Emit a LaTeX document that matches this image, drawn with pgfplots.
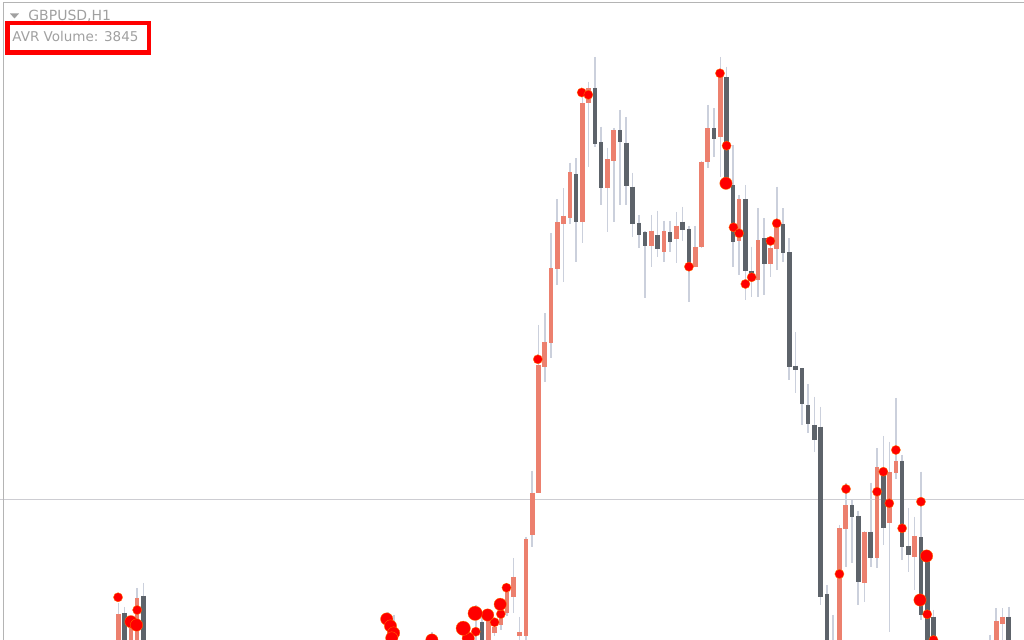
\documentclass[border=0pt]{standalone}
\usepackage{pgfplots}
\pgfplotsset{compat=1.18}
\usepackage{pgfplotstable}
\usepackage{fontspec}
\setmainfont{DejaVu Sans}
\definecolor{upc}{HTML}{EC806E}
\definecolor{dnc}{HTML}{5D636A}
\definecolor{wickc}{HTML}{CBD0DC}
\definecolor{gridc}{HTML}{CDCDD2}
\definecolor{framec}{HTML}{B4B4B4}
\definecolor{txtc}{HTML}{A0A0A0}
\definecolor{dotedge}{HTML}{FF7A00}

% candles: i = bar index, wt = high, bt = body top, bb = body bottom, wb = low (screen units, downwards)
\pgfplotstableread{
i wt bt bb wb
-69 603 614 660 670
-67 623 628 660 670
-66 588 598 660 670
-10 610 615 660 670
-9 622 627 633 636
-8 608 617 625 630
-7 585 592 613 616
-6 558 577 597 613
-5 617 632 636.5 645
-4 536.7 539 636.5 645
-3 470.7 492.7 535.3 546.7
-2 325 365 492.7 493
-1 313.3 341.7 366.7 381.7
0 233.3 268.3 342.7 358.3
1 199.3 222.3 269.3 285
2 188.3 216 224 282
3 162.7 172.3 217.7 224
5 92 103.3 222.3 242.7
6 81.7 88.3 103.3 167.3
9 147.7 159.3 187.7 231.7
10 128 130 161 222.3
16 215 230.7 245.7 267.3
18 220.7 230.7 252.3 262
20 212 225.7 239.2 263
23 226 246.7 267.3 267.5
24 161 161.7 247.3 248
25 105 128.3 162.3 168.3
27 57 73.3 137.3 176.7
30 195 199.3 240.7 275
33 208.3 240 280 296.7
35 238.3 248.3 264 276.7
36 186.7 225 249.3 270
46 525 528.3 660 670
47 483.3 505 529.3 566.7
50 531 531.7 583.3 601.7
52 448.3 467.3 558.3 568.3
54 441.7 472.3 523.3 631.7
55 398 460.7 473.3 479.3
58 516.7 536 556.7 590
71 608.3 621 660 670
72 608.3 617 624 670
}\upbars

\pgfplotstableread{
i wt bt bb wb
-68 607 613 660 670
-65 583 596 660 670
-26 612 660 670 680
-25 615 660 670 680
-19 632 660 670 680
-12 605 660 670 680
-11 612 621.7 660 670
4 158.3 174 222.3 261.7
7 57 87.7 144 147.3
8 126.7 142.3 187.7 205
11 110 130 142.3 205
12 117.3 142.7 186 205
13 172.7 186.7 224 237.3
14 215 222.7 235 248.3
15 231 232.3 245.7 298.3
17 210.7 235.5 249 257
19 221 232.3 242.5 252
21 206.7 221.7 230 241
22 226 229 266.7 301.7
26 108.3 128.3 139 156.7
28 66.7 77.3 184 184.5
29 145 185 241.7 266.7
31 185 199.3 270.7 300
32 246.7 270.7 280 296.7
34 218.3 238.3 264 295
37 208.3 224 253.3 261.7
38 238.3 252.3 366.7 380
39 332.3 365.7 370 393.3
40 368 368.3 404 425
41 384 405 424 432.7
42 396.7 425 440 451.7
43 406.7 426.7 596.7 605
44 585 594 660 670
45 615 648 660 670
48 500 505 517.3 563.3
49 510.7 516 581.7 605
51 482.7 531.7 558.3 566.7
53 436 468.3 528.3 545
56 455 460.7 546.7 560
57 508.3 546 555 571.7
59 471.7 537.3 615 620
60 550 552.7 660 670
61 610 616.7 660 670
70 635 660 670 680
73 606.7 616.7 660 670
}\dnbars

\pgfplotstableread{
i y
-69.05 597.3
-66.0 610
-2.1 359.3
4.9 92.5
5.95 94.8
22.0 266.7
26.95 73.3
28.0 145.7
29.1 227.3
30.0 233.3
31.0 284
32.0 277.3
35.0 241
36.0 223.3
46.0 574
47.05 489
52.0 491.7
53.0 471.7
53.95 503.3
55.0 450
56.0 528.3
59.0 501.7
60.0 614.3
61.0 640
-12.0 631.7
-9.0 622.3
-8.0 614
-7.1 587.7
}\dotsS

\pgfplotstableread{
i y
-67.0 621.7
-66.1 625
27.9 183.3
58.85 600
59.9 556
-10.1 615
-8.1 604.3
-13.2 638.3
-19.0 640
-26.2 619
-25.6 626
-25.1 633
-25.4 638
}\dotsM

\pgfplotstableread{
i y
-14.0 628.3
-12.1 613.3
}\dotsL

\begin{document}
\begin{tikzpicture}
\path[use as bounding box] (0,0) rectangle (512pt,320pt);
\begin{axis}[
  at={(0,0)}, anchor=south west,
  scale only axis, width=512pt, height=320pt,
  xmin=-87.879, xmax=75.438, ymin=0, ymax=640,
  y dir=reverse, hide axis, clip marker paths=true,
]
\addplot[gridc, line width=0.5pt, forget plot] coordinates {(-88,500) (76,500)};
% wicks
\addplot[forget plot, draw=none, mark=none,
  error bars/.cd, y dir=plus, y explicit, error mark=none,
  error bar style={draw=wickc, line width=0.8pt}]
  table[x=i, y=wt, y error expr=\thisrow{wb}-\thisrow{wt}] {\upbars};
\addplot[forget plot, draw=none, mark=none,
  error bars/.cd, y dir=plus, y explicit, error mark=none,
  error bar style={draw=wickc, line width=0.8pt}]
  table[x=i, y=wt, y error expr=\thisrow{wb}-\thisrow{wt}] {\dnbars};
% bodies
\addplot[forget plot, draw=none, mark=none,
  error bars/.cd, y dir=plus, y explicit, error mark=none,
  error bar style={draw=upc, line width=2.3pt}]
  table[x=i, y=bt, y error expr=\thisrow{bb}-\thisrow{bt}] {\upbars};
\addplot[forget plot, draw=none, mark=none,
  error bars/.cd, y dir=plus, y explicit, error mark=none,
  error bar style={draw=dnc, line width=2.3pt}]
  table[x=i, y=bt, y error expr=\thisrow{bb}-\thisrow{bt}] {\dnbars};
% volume dots
\addplot[only marks, mark=*, mark size=2.3pt, mark options={fill=red, draw=dotedge, line width=0.15pt}] table[x=i, y=y] {\dotsS};
\addplot[only marks, mark=*, mark size=3.1pt, mark options={fill=red, draw=dotedge, line width=0.15pt}] table[x=i, y=y] {\dotsM};
\addplot[only marks, mark=*, mark size=3.6pt, mark options={fill=red, draw=dotedge, line width=0.15pt}] table[x=i, y=y] {\dotsL};
\end{axis}
\begin{scope}[x=0.5pt, y=0.5pt]
% frame
\draw[framec, line width=0.5pt] (3,0) -- (3,637) -- (1024,637);
% header
\fill[txtc] (10,626.5) -- (19,626.5) -- (14.5,621.5) -- cycle;
\node[anchor=base west, inner sep=0pt, font=\fontsize{7}{8}\selectfont, text=txtc] at (28,619.7) {GBPUSD,H1};
\draw[red, line width=2.25pt] (7.5,617.2) rectangle (149.2,587.5);
\node[anchor=base west, inner sep=0pt, font=\fontsize{6.75}{8}\selectfont, text=txtc] at (12,598.3) {AVR Volume: 3845};
\end{scope}
\end{tikzpicture}
\end{document}
